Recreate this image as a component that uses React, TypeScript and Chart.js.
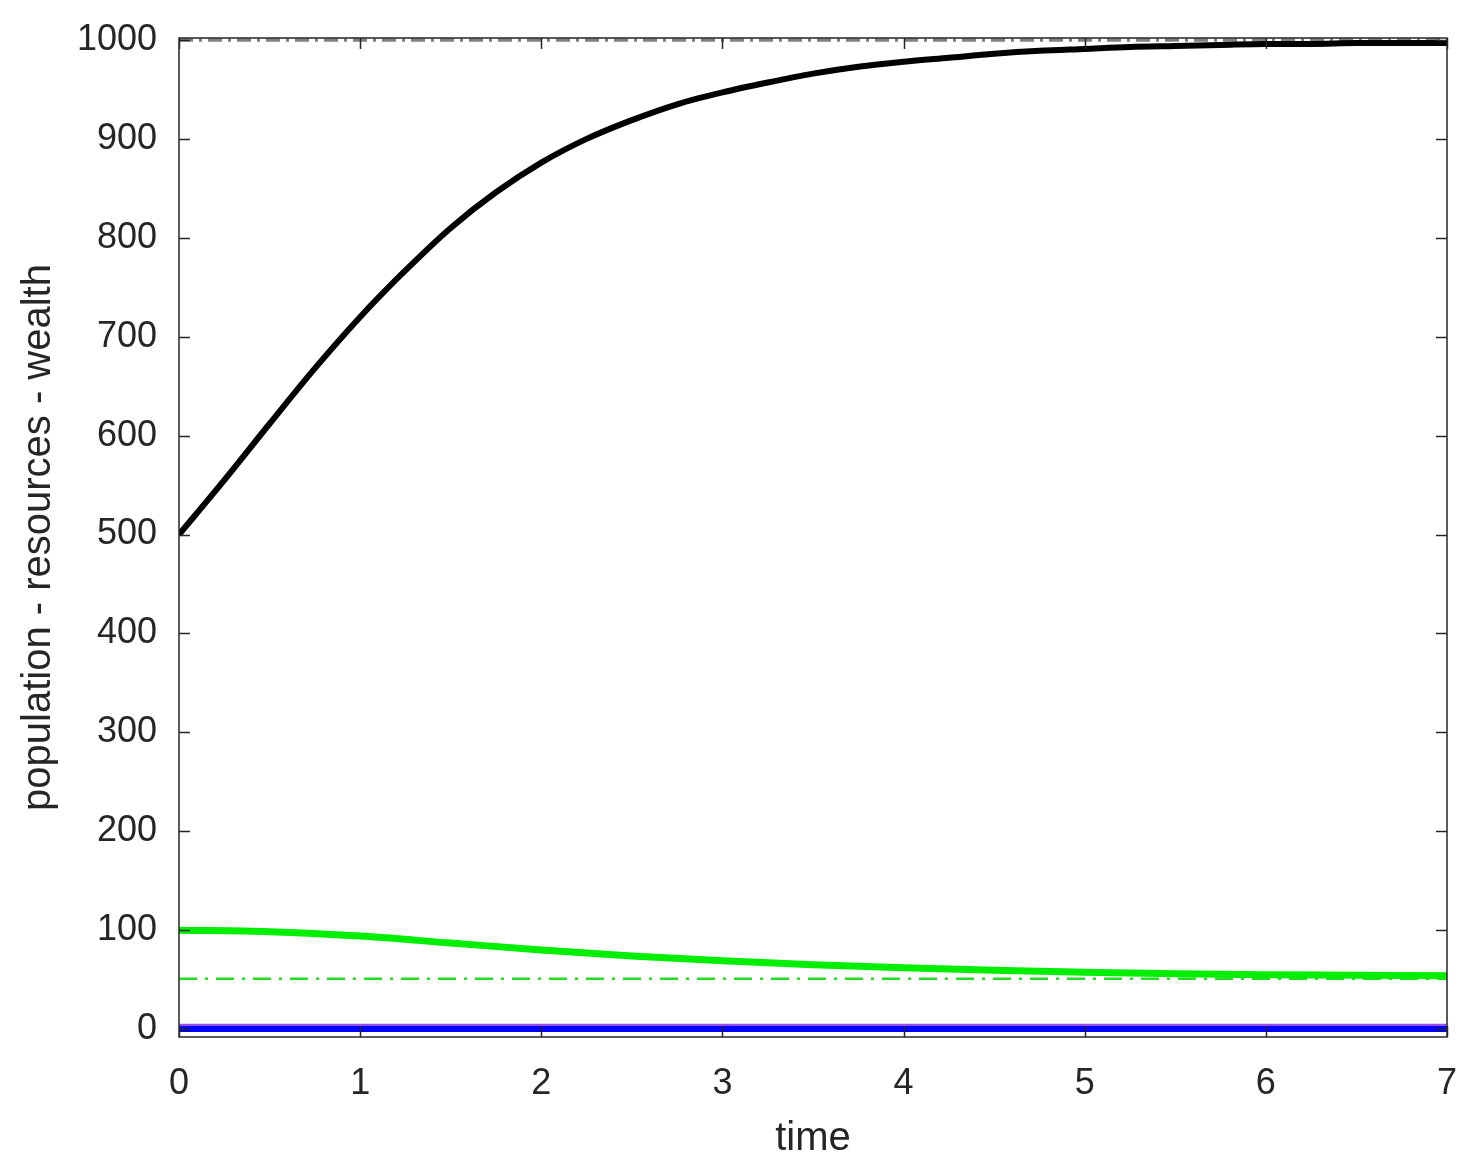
import React, { useEffect, useRef } from "react";
import { Chart, registerables } from "chart.js";

Chart.register(...registerables);

// Time grid for the curves
const timeFine = [0, 0.25, 0.5, 0.75, 1, 1.25, 1.5, 1.75, 2, 2.25, 2.5, 2.75, 3, 3.25, 3.5, 3.75, 4, 4.25, 4.5, 4.75, 5, 5.25, 5.5, 5.75, 6, 6.25, 6.5, 6.75, 7];
const population = [500, 555, 612, 668, 720, 767, 810, 846, 876, 900, 919, 935, 947, 957, 966, 973, 978, 982, 986, 989, 991, 993, 994, 995, 996, 996, 997, 997, 997];

const timeCoarse = [0, 0.5, 1, 1.5, 2, 2.5, 3, 3.5, 4, 4.5, 5, 5.5, 6, 6.5, 7];
const resources = [100, 98.5, 94, 87, 80, 74, 69, 65, 62, 59.5, 57.5, 56, 55, 54.5, 54];

const timeEnds = [0, 7];
const wealth = [0, 0];
const wealthUpper = [4, 4];
const carryingCapacity = [1000, 1000];
const resourcesEquilibrium = [51, 51];

const xTicks = [0, 1, 2, 3, 4, 5, 6, 7];
const yTicks = [0, 100, 200, 300, 400, 500, 600, 700, 800, 900, 1000];

const toPoints = (xs: number[], ys: number[]) => xs.map((x, i) => ({ x, y: ys[i] }));

const boxPlugin = {
  id: "matlabBox",
  afterDraw(chart: any) {
    const { ctx, chartArea } = chart;
    const { left, right, top, bottom } = chartArea;
    const xs = chart.scales.x;
    const ys = chart.scales.y;
    const tl = 11;
    ctx.save();
    ctx.strokeStyle = "#262626";
    ctx.lineWidth = 1.5;
    ctx.beginPath();
    ctx.rect(left, top, right - left, bottom - top);
    xTicks.forEach((v) => {
      const px = Math.round(xs.getPixelForValue(v)) + 0.5;
      ctx.moveTo(px, bottom);
      ctx.lineTo(px, bottom - tl);
      ctx.moveTo(px, top);
      ctx.lineTo(px, top + tl);
    });
    yTicks.forEach((v) => {
      const py = Math.round(ys.getPixelForValue(v)) + 0.5;
      ctx.moveTo(left, py);
      ctx.lineTo(left + tl, py);
      ctx.moveTo(right, py);
      ctx.lineTo(right - tl, py);
    });
    ctx.stroke();
    ctx.restore();
  },
};

export default function App() {
  const ref = useRef<HTMLCanvasElement | null>(null);
  useEffect(() => {
    if (!ref.current) return;
    const font = "'Liberation Sans', Arial, sans-serif";
    const chart = new Chart(ref.current, {
      type: "line",
      data: {
        datasets: [
          {
            data: toPoints(timeFine, population),
            borderColor: "#000000",
            borderWidth: 6,
            pointRadius: 0,
            cubicInterpolationMode: "monotone",
            order: 0,
          },
          {
            data: toPoints(timeCoarse, resources),
            borderColor: "#00ee00",
            borderWidth: 7,
            pointRadius: 0,
            cubicInterpolationMode: "monotone",
            order: 1,
          },
          {
            data: toPoints(timeEnds, wealth),
            borderColor: "#0000ff",
            borderWidth: 6,
            pointRadius: 0,
            order: 2,
          },
          {
            data: toPoints(timeEnds, wealthUpper),
            borderColor: "#9a4cf0",
            borderWidth: 3,
            pointRadius: 0,
            order: 3,
          },
          {
            data: toPoints(timeEnds, resourcesEquilibrium),
            borderColor: "#22dd22",
            borderWidth: 2.5,
            borderDash: [18, 8, 3, 8],
            pointRadius: 0,
            order: 4,
          },
          {
            data: toPoints(timeEnds, carryingCapacity),
            borderColor: "#808080",
            borderWidth: 3.5,
            borderDash: [14, 6, 3, 6],
            pointRadius: 0,
            clip: 6,
            order: 5,
          },
        ],
      },
      options: {
        animation: false,
        responsive: false,
        events: [],
        layout: { padding: { left: 0, right: 25, top: 38, bottom: 0 } },
        plugins: { legend: { display: false }, tooltip: { enabled: false } },
        scales: {
          x: {
            type: "linear",
            min: 0,
            max: 7,
            afterBuildTicks: (s: any) => {
              s.ticks = xTicks.map((v) => ({ value: v }));
            },
            afterFit: (s: any) => {
              s.height = 131;
              s.paddingLeft = 0;
              s.paddingRight = 0;
            },
            grid: { display: false, drawTicks: false },
            border: { display: false },
            ticks: { padding: 25, color: "#262626", font: { family: font, size: 36 }, maxRotation: 0, callback: (v: any) => String(v) },
            title: { display: true, text: "time", color: "#262626", font: { family: font, size: 40 }, padding: { top: 0, bottom: 5 } },
          },
          y: {
            type: "linear",
            min: -8,
            max: 1002,
            afterBuildTicks: (s: any) => {
              s.ticks = yTicks.map((v) => ({ value: v }));
            },
            afterFit: (s: any) => {
              s.width = 179;
              s.paddingTop = 0;
              s.paddingBottom = 0;
            },
            grid: { display: false, drawTicks: false },
            border: { display: false },
            ticks: { padding: 22, color: "#262626", font: { family: font, size: 36 }, callback: (v: any) => String(v) },
            title: { display: true, text: "population - resources - wealth", color: "#262626", font: { family: font, size: 40 }, padding: { top: 15, bottom: 0 } },
          },
        },
      },
      plugins: [boxPlugin],
    } as any);
    return () => chart.destroy();
  }, []);
  return (
    <div style={{ position: "fixed", left: 0, top: 0, width: 1472, height: 1168, background: "#ffffff" }}>
      <canvas ref={ref} width={1472} height={1168} style={{ width: 1472, height: 1168, display: "block" }} />
    </div>
  );
}
